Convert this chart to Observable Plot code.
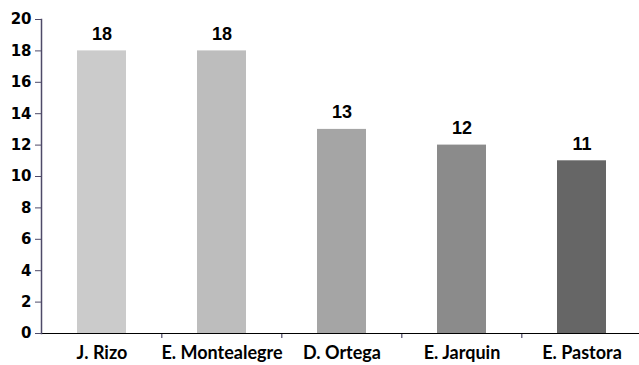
<!DOCTYPE html>
<html>
<head>
<meta charset="utf-8">
<script src="https://cdn.jsdelivr.net/npm/d3@7"></script>
<script src="https://cdn.jsdelivr.net/npm/@observablehq/plot@0.6"></script>
<style>
  html, body { margin: 0; padding: 0; background: #fff; }
  #chart svg { display: block; }
  #chart svg text { font-weight: bold; }
</style>
</head>
<body>
<div id="chart"></div>
<script>
// Candidates and their counts
const candidates = ["J. Rizo", "E. Montealegre", "D. Ortega", "E. Jarquin", "E. Pastora"];
const counts = [18, 18, 13, 12, 11];
const barColors = ["#cbcbcb", "#bdbdbd", "#a5a5a5", "#8b8b8b", "#666666"];
const yTicks = [0, 2, 4, 6, 8, 10, 12, 14, 16, 18, 20];

const data = candidates.map((name, i) => ({name, count: counts[i], color: barColors[i]}));

const width = 639;
const height = 365;
const xRange = [41, 643];
const step = (xRange[1] - xRange[0]) / candidates.length;
const axisColor = "#4e4a68";
const labelFont = "Lato, 'Open Sans', sans-serif";
const tickFont = "'DejaVu Sans', Verdana, sans-serif";

const chart = Plot.plot({
  width,
  height,
  marginLeft: 41,
  marginRight: 0,
  marginTop: 19,
  marginBottom: 32,
  style: {background: "#fff", overflow: "visible"},
  x: {domain: candidates, range: xRange, paddingInner: 0.59, paddingOuter: 0.295, label: null},
  y: {domain: [0, 20], label: null},
  marks: [
    Plot.barY(data, {x: "name", y: "count", fill: "color"}),
    // boundary ticks between categories, hanging below the baseline
    Plot.ruleX(candidates.slice(1), {x: d => d, y1: 0, y2: 0, dx: -step / 2, stroke: axisColor, strokeWidth: 1.2,
      render(index, scales, values, dimensions, context, next) {
        const g = next(index, scales, values, dimensions, context);
        const y0 = scales.y(0);
        d3.select(g).selectAll("line").attr("y1", y0).attr("y2", y0 + 5);
        return g;
      }}),
    Plot.ruleY([0], {stroke: "#000", strokeWidth: 1.2}),
    Plot.frame({anchor: "left", stroke: axisColor, strokeWidth: 1.5}),
    Plot.axisY({ticks: yTicks, tickSize: 6, tickPadding: 4, stroke: axisColor,
      fontSize: 15, fontWeight: "bold", fontFamily: tickFont, fill: "#000", label: null}),
    Plot.axisX({tickSize: 0, tickPadding: 13, fontSize: 18, fontWeight: "bold",
      fontFamily: labelFont, fill: "#000", label: null}),
    Plot.text(data, {x: "name", y: "count", text: d => String(d.count), dy: -17,
      fontSize: 18, fontWeight: "bold", fontFamily: "'Liberation Sans', Arial, sans-serif", fill: "#000"})
  ]
});

document.getElementById("chart").appendChild(chart);
</script>
</body>
</html>
